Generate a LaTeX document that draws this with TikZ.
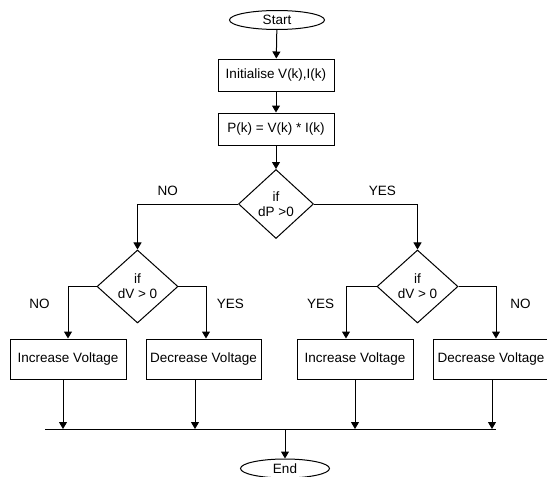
\documentclass[tikz,border=0pt]{standalone}
\usepackage{fontspec}
\setmainfont{Liberation Sans}
\usetikzlibrary{shapes,arrows.meta}
\tikzset{term/.style={ellipse,draw,minimum width=95,minimum height=19,inner sep=0pt},
  proc/.style={rectangle,draw,minimum width=116,minimum height=32,inner sep=0pt},
  cond/.style={diamond,draw,align=center,inner sep=0pt,minimum width=81,minimum height=73}}

\begin{document}
\begin{tikzpicture}[x=1pt,y=-1pt,>={Triangle[length=7pt,width=8pt]},line width=1pt,
    font=\fontsize{13.5}{15}\selectfont]
        \useasboundingbox (0,0) rectangle (547,477);
        \node[term] (start) at (277,20) {Start};
        \node[proc] (init) at (276,75) {Initialise V(k),I(k)};
        \node[proc] (pk) at (276,129) {P(k) = V(k) * I(k)};
        \node[cond,minimum width=75,minimum height=69] (dp) at (276,204) {if\\dP >0};
        \node[cond] (dvl) at (137.5,286.5) {if\\dV > 0};
        \node[cond] (dvr) at (417.5,286.5) {if\\dV > 0};
        \node[proc,minimum height=40] (inc1) at (68,359) {Increase Voltage};
        \node[proc,minimum width=115,minimum height=40] (dec1) at (203.5,359) {Decrease Voltage};
        \node[proc,minimum height=40] (inc2) at (355,359) {Increase Voltage};
        \node[proc,minimum height=40] (dec2) at (491,359) {Decrease Voltage};
        \coordinate (busl) at (45,429);
        \coordinate (busr) at (496,429);
        \node[term,minimum width=89] (end) at (285,468.5) {End};

        \draw [->] (start) -- (init);
        \draw [->] (init) -- (pk);
        \draw [->] (pk) -- (dp);
        \draw [->] (dp) -| node[above=5pt, pos=0.35]{NO} (dvl);
        \draw [->] (dp) -| node[above=5pt, pos=0.33]{YES} (dvr);
        \draw [->] (dvl) -| node[left=14.5pt, pos=0.665]{NO} (inc1);
        \draw [->] (dvl) -| node[right=7pt, pos=0.665]{YES} ([xshift=2.5pt]dec1.north);
        \draw [->] (dvr) -| node[left=8pt, pos=0.665]{YES} ([xshift=-9pt]inc2.north);
        \draw [->] (dvr) -| node[right=10.5pt, pos=0.665]{NO} ([xshift=5pt]dec2.north);

        \draw [->] ([xshift=-5pt]inc1.south) -- ([xshift=-5pt]inc1.south |- busl);
        \draw [->] ([xshift=-8.5pt]dec1.south) -- ([xshift=-8.5pt]dec1.south |- busl);
        \draw [->] (inc2.south) -- (inc2.south |- busl);
        \draw [->] ([xshift=1pt]dec2.south) -- ([xshift=1pt]dec2.south |- busl);
        \draw (busl) -- (busr);
        \draw [->] (end |- busl) -- (end);
    \end{tikzpicture}
\end{document}
